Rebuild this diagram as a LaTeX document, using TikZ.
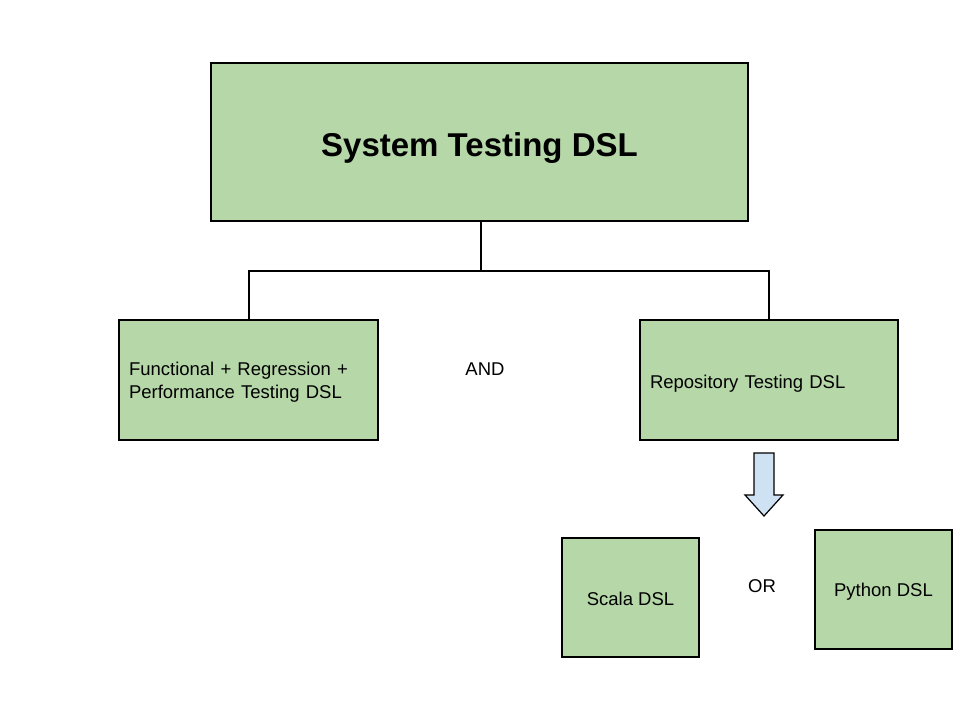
\documentclass[tikz,border=0pt]{standalone}
\usepackage{fontspec}
\setmainfont{Liberation Sans}
\definecolor{boxgreen}{HTML}{B6D7A8}
\definecolor{arrowblue}{HTML}{CFE2F3}
\begin{document}
\begin{tikzpicture}[x=1pt,y=1pt,
  box/.style={draw=black, fill=boxgreen, line width=1.5pt, inner sep=0pt},
  small/.style={font=\fontsize{18.5}{23}\selectfont},
  conn/.style={draw=black, line width=2pt}]
\useasboundingbox[fill=white] (0,0) rectangle (960,-720);
% top box
\node[box, minimum width=537, minimum height=158, font=\fontsize{33}{38}\selectfont\bfseries, text height=35pt, text depth=7pt] (top) at (479.5,-142) {System Testing DSL};
% second level
\node[box, minimum width=259, minimum height=120] (left) at (248.5,-380) {};
\node[small, text width=239, align=left, inner sep=0pt] (lefttext) at ([yshift=-2pt]left.center) {Functional + Regression +\\Performance Testing DSL};
\node[box, small, minimum width=258, minimum height=120, text width=238, align=left, inner xsep=10pt, text height=20pt, text depth=4pt] (right) at (769,-380) {Repository Testing DSL};
\node[small] (and) at (485,-369) {AND};
% connectors
\coordinate (bend) at (481,-271);
\draw[conn] (top.south -| bend) -- (bend) -| (left.north);
\draw[conn] (bend) -| (right.north);
% down arrow
\draw[line width=1.2pt, fill=arrowblue, line join=miter]
  (754,-453) -- (774,-453) -- (774,-495) -- (783,-495) -- (764,-516) -- (745,-495) -- (754,-495) -- cycle;
% bottom boxes
\node[box, small, minimum width=137, minimum height=119, text height=15.5pt, text depth=0pt] (scala) at (630.5,-597.5) {Scala DSL};
\node[small] (or) at (762,-586) {OR};
\node[box, small, minimum width=137, minimum height=119, text height=17.5pt, text depth=4pt] (python) at (883.5,-589.5) {Python DSL};
\end{tikzpicture}
\end{document}
